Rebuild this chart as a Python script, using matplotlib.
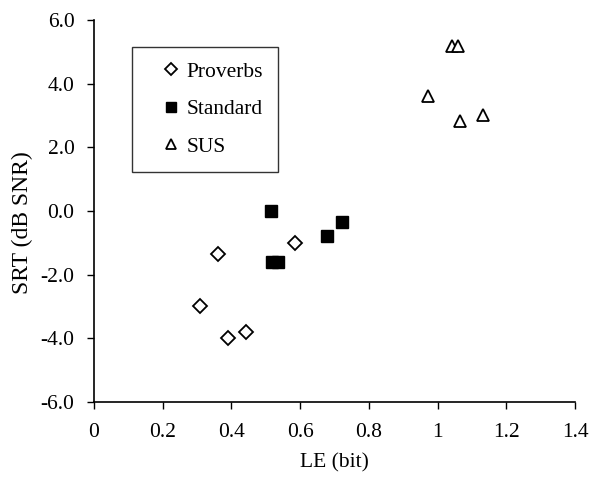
import numpy as np
import matplotlib.pyplot as plt

plt.rcParams['font.family'] = ['Liberation Serif', 'DejaVu Serif']

# LE (bit) vs SRT (dB SNR)
proverbs_x = [0.308, 0.360, 0.391, 0.443, 0.585]
proverbs_y = [-3.0, -1.35, -4.0, -3.8, -1.0]

standard_x = [0.515, 0.518, 0.535, 0.677, 0.723]
standard_y = [0.0, -1.6, -1.6, -0.8, -0.35]

sus_x = [0.973, 1.041, 1.060, 1.065, 1.133]
sus_y = [3.62, 5.2, 5.2, 2.83, 3.02]

xticks = [0, 0.2, 0.4, 0.6, 0.8, 1.0, 1.2, 1.4]
xtick_labels = ['0', '0.2', '0.4', '0.6', '0.8', '1', '1.2', '1.4']
yticks = [-6, -4, -2, 0, 2, 4, 6]

fig = plt.figure(figsize=(5.91, 4.79), dpi=100)
ax = fig.add_axes([0.159, 0.161, 0.814, 0.797])

ax.plot(proverbs_x, proverbs_y, 'D', ms=7, mfc='white', mec='black', mew=1.3,
        ls='none', label='Proverbs')
ax.plot(standard_x, standard_y, 's', ms=9, mfc='black', mec='black',
        ls='none', label='Standard')
ax.plot(sus_x, sus_y, '^', ms=9, mfc='white', mec='black', mew=1.3,
        ls='none', label='SUS')

ax.set_xlim(0, 1.4)
ax.set_ylim(-6, 6)
ax.set_xticks(xticks)
ax.set_xticklabels(xtick_labels)
ax.set_yticks(yticks)
ax.set_yticklabels([f'{v:.1f}' for v in yticks])
ax.tick_params(direction='out', length=5, width=1, labelsize=15.5, colors='black')
ax.tick_params(axis='x', pad=10)
ax.tick_params(axis='y', pad=9)

for s in ['top', 'right']:
    ax.spines[s].set_visible(False)
for s in ['left', 'bottom']:
    ax.spines[s].set_linewidth(1.2)

ax.set_xlabel('LE (bit)', fontsize=15.5, labelpad=8)
ax.set_ylabel('SRT (dB SNR)', fontsize=17)
ax.yaxis.set_label_coords(-0.127, 0.47)

leg = ax.legend(loc='upper left', bbox_to_anchor=(0.08, 0.93), fontsize=15.5,
                frameon=True, fancybox=False, edgecolor='black', markerscale=0.85,
                handlelength=2.14, handletextpad=-0.33, labelspacing=0.8,
                borderpad=0.7, borderaxespad=0)
leg.get_frame().set_linewidth(1.0)

fig.savefig('out.png', dpi=100)
